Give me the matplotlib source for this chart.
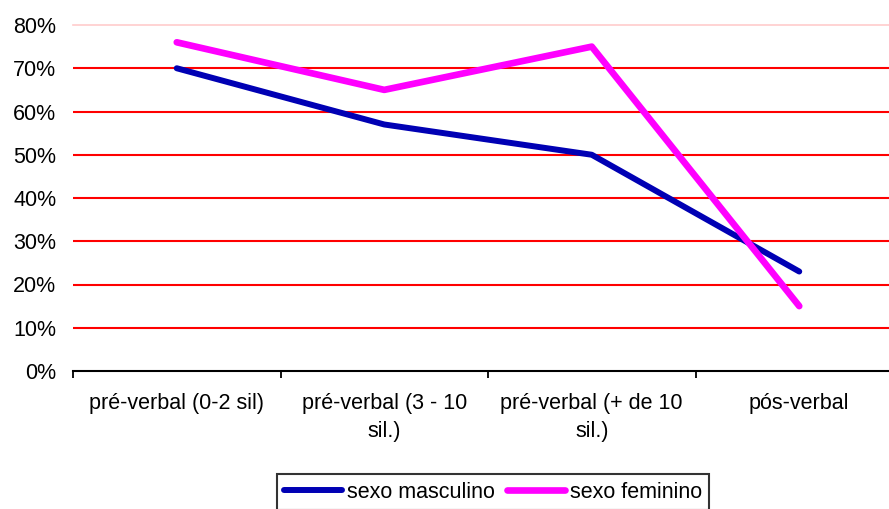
import matplotlib.pyplot as plt
from matplotlib.ticker import FixedLocator, PercentFormatter

plt.rcParams["font.family"] = ["Liberation Sans", "DejaVu Sans"]

categories = ["pré-verbal (0-2 sil)", "pré-verbal (3 - 10\nsil.)",
              "pré-verbal (+ de 10\nsil.)", "pós-verbal"]
masculino = [70, 57, 50, 23]
feminino = [76, 65, 75, 15]
series_names = ["sexo masculino", "sexo feminino"]

W, H = 889, 509
FS = 15.5
fig = plt.figure(figsize=(W / 100, H / 100), dpi=100)
# axes runs a little past the right edge of the picture, like the original
ax = fig.add_axes([73 / W, (H - 371) / H, (903 - 73) / W, (371 - 25) / H])

xs = [i + 0.5 for i in range(len(categories))]
ax.plot(xs, masculino, color="#0000b4", lw=4.3, solid_capstyle="round",
        solid_joinstyle="round", label=series_names[0], zorder=3)
ax.plot(xs, feminino, color="#ff00ff", lw=4.8, solid_capstyle="round",
        solid_joinstyle="round", label=series_names[1], zorder=3)

ax.set_xlim(0, len(categories))
ax.set_ylim(0, 80)

for v in range(10, 80, 10):
    ax.axhline(v, color="#ff0000", lw=1.5, zorder=1)

ax.set_yticks(range(0, 90, 10))
ax.yaxis.set_major_formatter(PercentFormatter(decimals=0))
ax.tick_params(axis="y", length=0, pad=12, labelsize=FS)

ax.xaxis.set_major_locator(FixedLocator(range(len(categories) + 1)))
ax.xaxis.set_minor_locator(FixedLocator(xs))
ax.set_xticklabels([], minor=False)
ax.set_xticklabels(categories, minor=True, linespacing=1.45)
ax.tick_params(axis="x", which="major", length=5, width=1.3, direction="out")
ax.tick_params(axis="x", which="minor", length=0, pad=16, labelsize=FS)

for s in ["left", "right"]:
    ax.spines[s].set_visible(False)
ax.spines["top"].set_color("#ffcccc")
ax.spines["top"].set_linewidth(1.2)
ax.spines["bottom"].set_linewidth(1.5)

leg = fig.legend(loc="upper center", bbox_to_anchor=(493 / W, 1 - 474 / H),
                 ncol=2, fontsize=FS, frameon=True, fancybox=False,
                 handlelength=2.7, handletextpad=0.2, columnspacing=0.6,
                 borderpad=0.35, borderaxespad=0)
leg.get_frame().set_edgecolor("black")
leg.get_frame().set_linewidth(1.5)

fig.savefig("out.png", dpi=100)
